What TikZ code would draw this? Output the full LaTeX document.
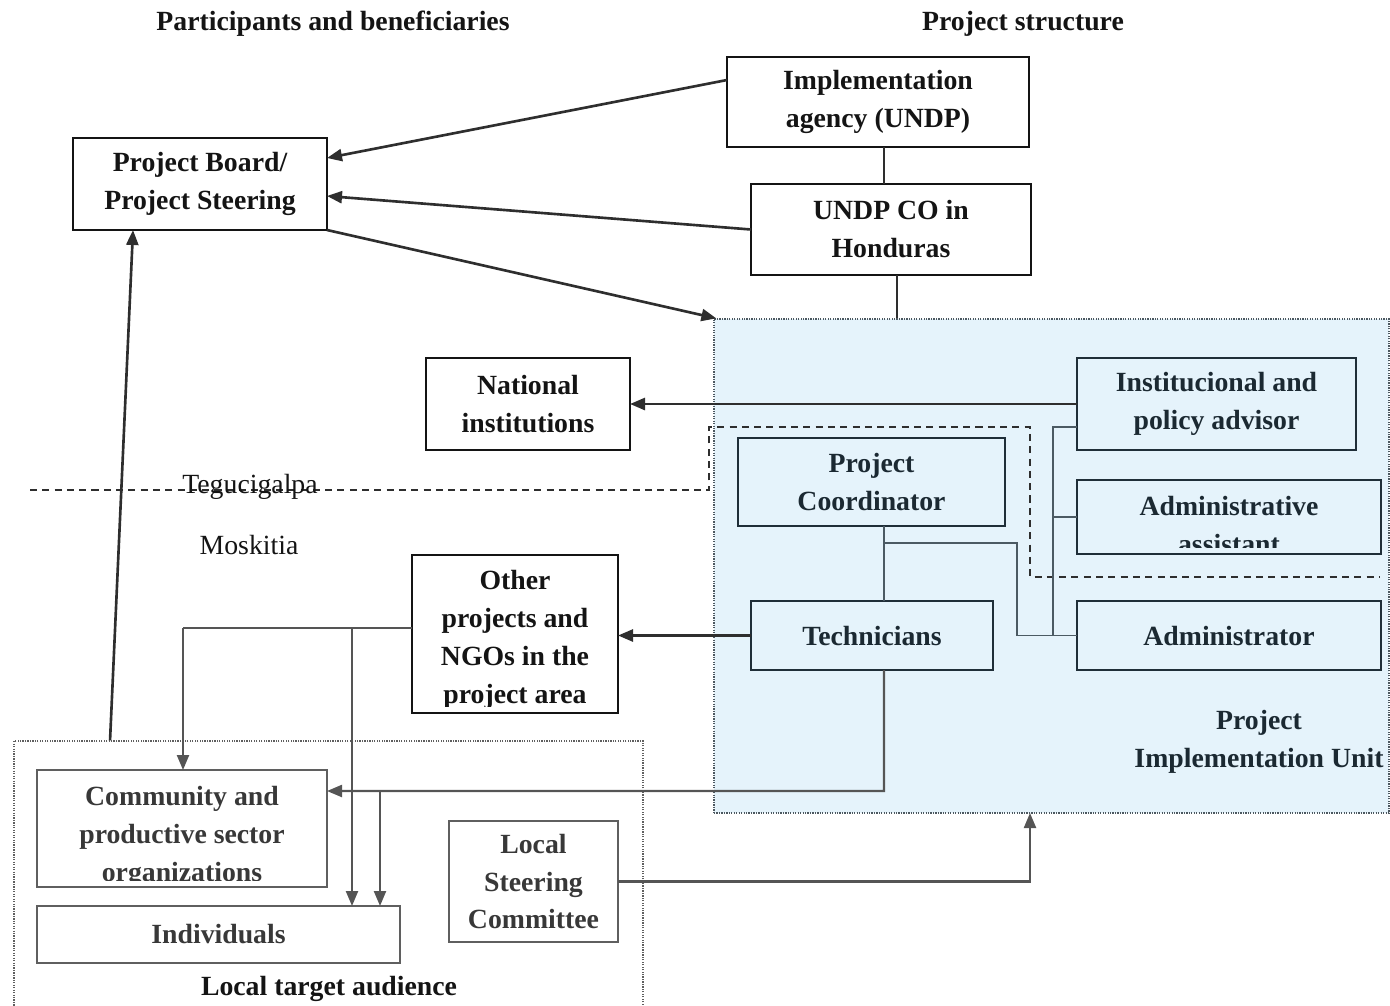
\documentclass[tikz,border=0pt]{standalone}
\usepackage{fontspec}
\setmainfont{Liberation Serif}
\usetikzlibrary{arrows.meta,calc}

\definecolor{inktop}{HTML}{141414}
\definecolor{linetop}{HTML}{2E2E2E}
\definecolor{piufill}{HTML}{E5F3FB}
\definecolor{piuline}{HTML}{1F2E38}
\definecolor{piutext}{HTML}{1B2932}
\definecolor{piuconn}{HTML}{4B5A63}
\definecolor{lowline}{HTML}{5F5F5F}
\definecolor{lowtext}{HTML}{383838}
\definecolor{lowarrow}{HTML}{555555}

% box from corner coordinates: style, name, x1, y1, x2, y2, text
\newcommand{\mkbox}[7]{%
  \node[#1,minimum width={(#5-#3)*0.02cm},minimum height={(#6-#4)*0.02cm}]
    (#2) at ({(#3+#5)/2},{(#4+#6)/2}) {#7};}

\tikzset{
  basefont/.style={font=\fontsize{15.8}{21.6}\selectfont},
  boldfont/.style={font=\bfseries\fontsize{15.8}{21.6}\selectfont},
  frame/.style={rectangle,inner sep=0pt,outer sep=0pt,align=center,boldfont},
  topbox/.style={frame,draw=inktop,line width=1.1pt,text=inktop},
  piubox/.style={frame,draw=piuline,line width=1.1pt,text=piutext},
  lowbox/.style={frame,draw=lowline,line width=1pt,text=lowtext},
  piuarea/.style={rectangle,inner sep=0pt,fill=piufill,draw=piuline!80,
    line width=0.7pt,dash pattern=on 0.7pt off 0.7pt},
  ltaarea/.style={rectangle,inner sep=0pt,draw=lowline,
    line width=0.7pt,dash pattern=on 0.7pt off 0.7pt},
  words/.style={inner sep=0pt,align=center,boldfont},
  plainwords/.style={inner sep=0pt,basefont,text=inktop},
  tip/.style={-{Triangle[length=0.3cm,width=0.24cm]}},
  arr/.style={line width=1.5pt,draw=linetop,tip},
  lowarr/.style={line width=1.3pt,draw=lowarrow,tip},
  conn/.style={line width=0.8pt,draw=piuconn},
  topconn/.style={line width=0.8pt,draw=linetop},
  lowconn/.style={line width=1.3pt,draw=lowarrow},
  split/.style={line width=0.9pt,draw=linetop,dash pattern=on 4pt off 3pt},
}

\begin{document}
\begin{tikzpicture}[x=0.02cm,y=-0.02cm]
\useasboundingbox (0,0) rectangle (1390,1005);

% column headings
\node[words,text=inktop] (headleft) at (333,24) {Participants and beneficiaries};
\node[words,text=inktop] (headright) at (1023,24) {Project structure};

% shaded project unit and the local audience frame
\mkbox{piuarea}{piu}{714}{319}{1389}{813}{}
\mkbox{ltaarea}{lta}{14}{741}{643}{1030}{}

% Tegucigalpa / Moskitia divide and the unit's inner staff frame
\draw[split] (30,490) -- (709,490) -- (709,427) -- (1030,427) -- (1030,577) -- (1380,577);
\node[plainwords] (tegu) at (250,487) {Tegucigalpa};
\node[plainwords] (mosk) at (249,545) {Moskitia};

% governance boxes
\mkbox{topbox}{impl}{727}{57}{1029}{147}{Implementation\\agency (UNDP)}
\mkbox{topbox}{undp}{751}{184}{1031}{275}{UNDP CO in\\Honduras}
\mkbox{topbox}{pb}{73}{138}{327}{230}{Project Board/\\Project Steering}
\mkbox{topbox}{ni}{426}{358}{630}{450}{National\\institutions}
\mkbox{topbox}{other}{412}{555}{618}{713}{}
\begin{scope}
  \clip (413,556) rectangle (617,706);
  \node[words,text=inktop] (othertext) at (515,640) {Other\\projects and\\NGOs in the\\project area};
\end{scope}

% project implementation unit
\mkbox{piubox}{ipa}{1077}{358}{1356}{450}{Institucional and\\policy advisor}
\mkbox{piubox}{pc}{738}{438}{1005}{526}{Project\\Coordinator}
\mkbox{piubox}{aa}{1077}{480}{1381}{554}{}
\begin{scope}
  \clip (1078,481) rectangle (1380,547);
  \node[words,text=piutext] (aatext) at (1229,525) {Administrative\\assistant};
\end{scope}
\mkbox{piubox}{tech}{751}{601}{993}{670}{Technicians}
\mkbox{piubox}{adm}{1077}{601}{1381}{670}{Administrator}
\node[words,text=piutext] (piulabel) at (1259,742) {Project\\Implementation Unit};

% local target audience
\mkbox{lowbox}{comm}{37}{770}{327}{887}{}
\begin{scope}
  \clip (38,771) rectangle (326,880);
  \node[words,text=lowtext] (commtext) at (182,837) {Community and\\productive sector\\organizations};
\end{scope}
\mkbox{lowbox}{indiv}{37}{906}{400}{963}{Individuals}
\mkbox{lowbox}{lsc}{449}{821}{618}{942}{Local\\Steering\\Committee}
\node[words,text=inktop] (ltalabel) at (329,989) {Local target audience};

% junction points
\coordinate (pcj) at (884,543);
\coordinate (pcr) at (1017,543);
\coordinate (advx) at (1053,427);
\coordinate (techb) at (884,791);
\coordinate (techb2) at (380,791);
\coordinate (othl) at (183,628);
\coordinate (othm) at (352,628);
\coordinate (lscup) at (1030,813);

% reporting lines to the board
\draw[arr] ([yshift=0.44cm]impl.west) -- ([yshift=0.52cm]pb.east);
\draw[arr] (undp.west) -- ([yshift=-0.24cm]pb.east);
\draw[arr] (pb.south east) -- ([xshift=0.06cm]piu.north west);
\draw[arr] ([xshift=-4.37cm]lta.north) -- ([xshift=-1.34cm]pb.south);

% agency chain
\draw[topconn] ([xshift=0.12cm]impl.south) -- ([xshift=0.12cm]impl.south |- undp.north);
\draw[topconn] ([xshift=0.12cm]undp.south) -- ([xshift=0.12cm]undp.south |- piu.north);

% unit internal links
\draw[arr] (ipa.west) -- (ni.east);
\draw[conn] ([xshift=0.25cm]pc.south) -- ([xshift=0.25cm]pc.south |- tech.north);
\draw[conn] (pcj) -- (pcr) -- (pcr |- adm.west) -- (adm.west);
\draw[conn] (advx -| ipa.west) -- (advx) -- (advx |- adm.west);
\draw[conn] (advx |- aa.west) -- (aa.west);
\draw[arr] (tech.west) -- (tech.west -| other.east);

% field links
\draw[lowarr] ([xshift=0.24cm]tech.south) -- (techb) -- (techb -| comm.east);
\draw[lowarr] (techb2) -- (techb2 |- indiv.north);
\draw[lowconn] (othl -| other.west) -- (othl);
\draw[lowarr] (othl) -- (othl |- comm.north);
\draw[lowarr] (othm) -- (othm |- indiv.north);
\draw[lowarr] (lsc.east) -| (lscup);
\end{tikzpicture}
\end{document}
